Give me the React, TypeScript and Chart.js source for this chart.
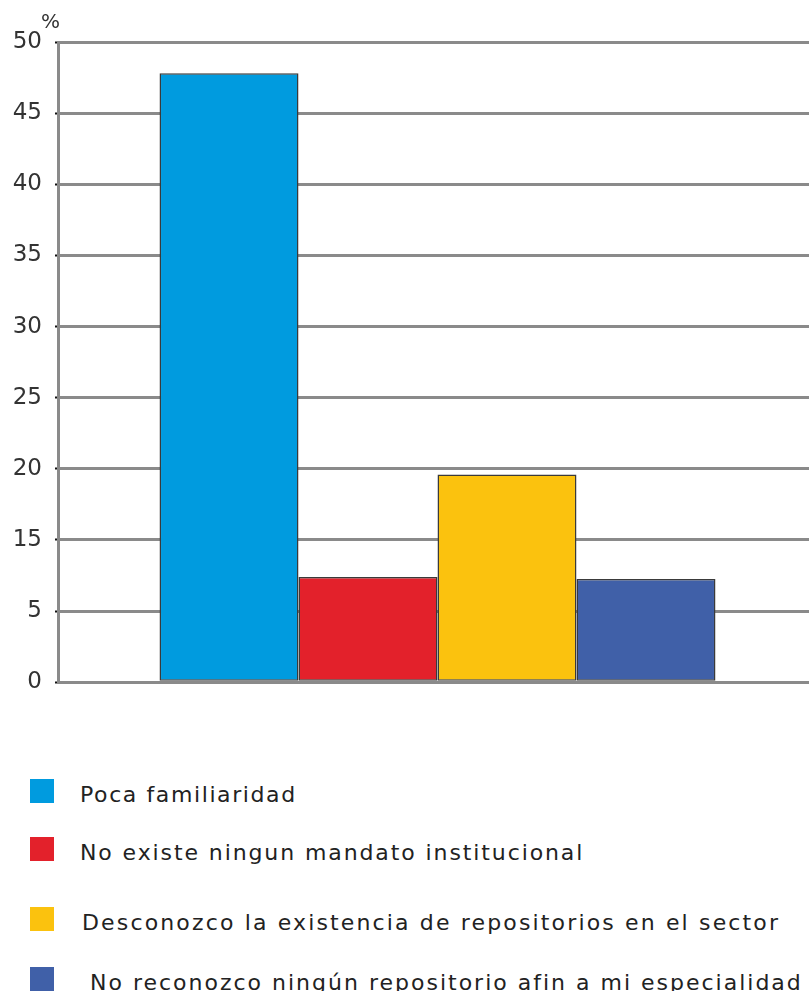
import React, { useEffect, useRef } from "react";
import { Chart, registerables } from "chart.js";

Chart.register(...registerables);

// Data
const categories = [""];
const seriesNames = [
  "Poca familiaridad",
  "No existe ningun mandato institucional",
  "Desconozco la existencia de repositorios en el sector",
  "No reconozco ningún repositorio afin a mi especialidad",
];
const seriesValues = [47.8, 9.8, 19.6, 9.5];
const seriesColors = ["#009bdf", "#e3212b", "#fbc20e", "#4060a8"];
// The original axis labels (evenly spaced on the axis, note 10 is missing)
const yTickLabels = [0, 5, 15, 20, 25, 30, 35, 40, 45, 50];

// Map a value to its position on the evenly spaced label axis
function toAxisPos(v: number): number {
  for (let i = 0; i < yTickLabels.length - 1; i++) {
    const a = yTickLabels[i];
    const b = yTickLabels[i + 1];
    if (v >= a && v <= b) return i + (v - a) / (b - a);
  }
  return yTickLabels.length - 1;
}

const FONT = "'DejaVu Sans', Verdana, sans-serif";

const legendRows = [
  { top: 779, textLeft: 80, spacing: 1.6 },
  { top: 837, textLeft: 80, spacing: 1.9 },
  { top: 907, textLeft: 82, spacing: 2.15 },
  { top: 967, textLeft: 90, spacing: 2.0 },
];

export default function App() {
  const canvasRef = useRef<HTMLCanvasElement | null>(null);

  useEffect(() => {
    if (!canvasRef.current) return;
    const chart = new Chart(canvasRef.current, {
      type: "bar",
      data: {
        labels: categories,
        datasets: seriesNames.map((name, i) => ({
          label: name,
          data: [toAxisPos(seriesValues[i])],
          backgroundColor: seriesColors[i],
          borderColor: "#3a3a3a",
          borderWidth: 1.5,
          borderSkipped: false,
          categoryPercentage: 0.7325,
          barPercentage: 1,
        })),
      },
      options: {
        responsive: false,
        animation: false,
        layout: { padding: { top: 42, bottom: 10, left: 0, right: 0 } },
        plugins: {
          legend: { display: false },
          tooltip: { enabled: false },
        },
        scales: {
          x: {
            afterFit: (scale: any) => {
              scale.height = 0;
            },
            ticks: { display: false },
            grid: { display: false, drawTicks: false },
            border: { display: true, color: "#8a8a8a", width: 2 },
          },
          y: {
            min: 0,
            max: yTickLabels.length - 1,
            afterFit: (scale: any) => {
              scale.width = 58;
            },
            ticks: {
              stepSize: 1,
              padding: 13,
              color: "#333",
              font: { family: FONT, size: 23 },
              callback: (v: any) => {
                const lbl = yTickLabels[Math.round(Number(v))];
                return lbl === undefined ? "" : String(lbl);
              },
            },
            grid: {
              color: "#8a8a8a",
              lineWidth: 3,
              tickLength: 3,
              tickColor: "#111",
              tickWidth: 2,
            },
            border: { display: true, color: "#8a8a8a", width: 3 },
          },
        },
      },
    });
    return () => chart.destroy();
  }, []);

  return (
    <div style={{ position: "relative", width: 809, height: 991, overflow: "hidden", fontFamily: FONT }}>
      <style>{"body{margin:0;background:#fff;overflow:hidden}"}</style>
      <canvas ref={canvasRef} width={817} height={709} style={{ position: "absolute", left: 0, top: 0 }} />
      <div
        style={{
          position: "absolute",
          left: 41,
          top: 11,
          fontSize: 20,
          lineHeight: "20px",
          color: "#333",
        }}
      >
        %
      </div>
      {seriesNames.map((name, i) => (
        <React.Fragment key={i}>
          <div
            style={{
              position: "absolute",
              left: 30,
              top: legendRows[i].top,
              width: 24,
              height: 24,
              background: seriesColors[i],
            }}
          />
          <div
            style={{
              position: "absolute",
              left: legendRows[i].textLeft,
              top: legendRows[i].top + 5,
              fontSize: 22,
              lineHeight: "22px",
              letterSpacing: legendRows[i].spacing + "px",
              color: "#222",
              whiteSpace: "nowrap",
            }}
          >
            {name}
          </div>
        </React.Fragment>
      ))}
    </div>
  );
}
